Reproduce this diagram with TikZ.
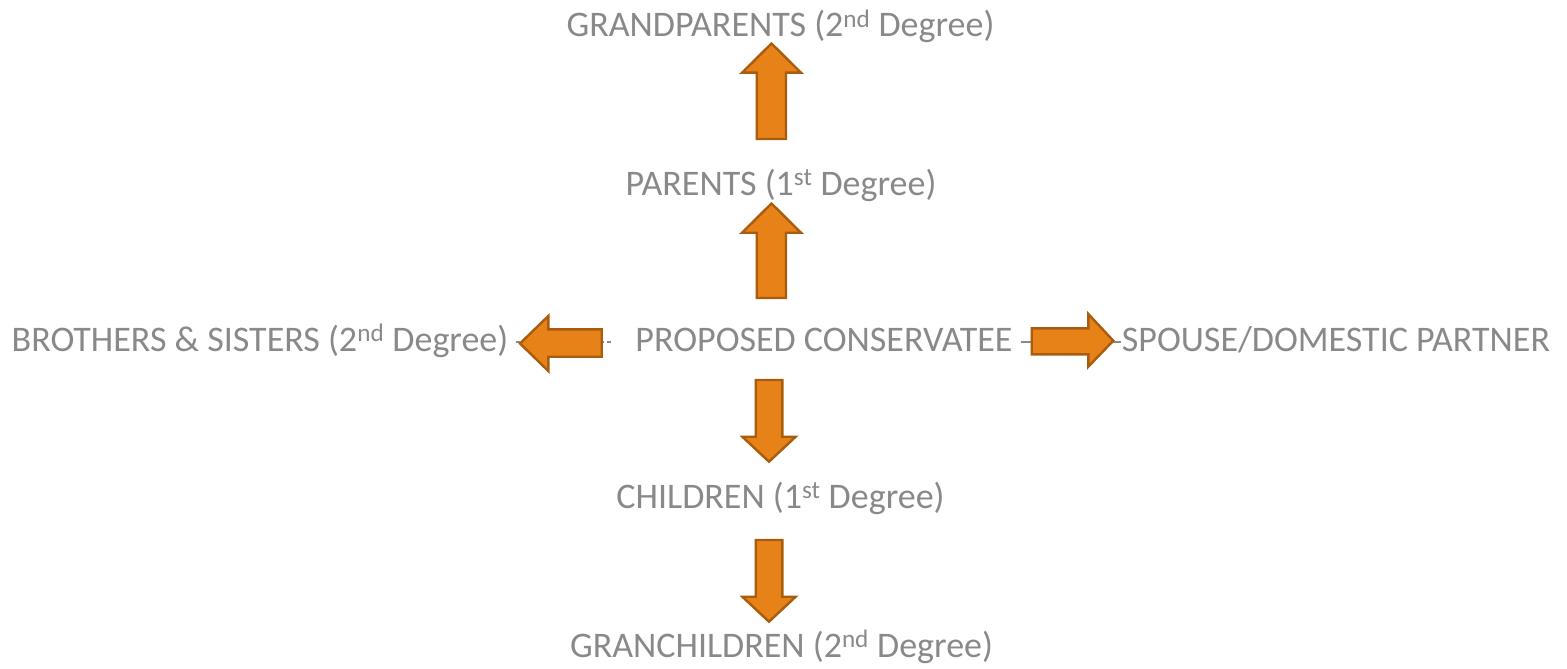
\documentclass[tikz,border=0pt]{standalone}
\usepackage{fontspec}
\setmainfont{Carlito}
\usetikzlibrary{calc}
\definecolor{txt}{RGB}{137,137,137}
\definecolor{arrfill}{RGB}{230,130,24}
\definecolor{arrdraw}{RGB}{170,92,14}
\begin{document}
\begin{tikzpicture}[x=1pt,y=-1pt,
  lbl/.style={text=txt,font=\fontsize{36}{42}\selectfont,anchor=base,inner sep=0pt},
  bigarrow/.style={fill=arrfill,draw=arrdraw,line width=2.4pt,line join=miter},
  conn/.style={draw=txt,line width=1.5pt}]
\useasboundingbox (0,0) rectangle (1567,669);
% labels
\node[lbl] (gp) at (780.5,37) {GRANDPARENTS (2\textsuperscript{nd} Degree)};
\node[lbl] (par) at (781,195) {PARENTS (1\textsuperscript{st} Degree)};
\node[lbl] (bro) at (260,351) {BROTHERS \& SISTERS (2\textsuperscript{nd} Degree)};
\node[lbl] (pc) at (824,351) {PROPOSED CONSERVATEE};
\node[lbl] (sp) at (1336,351) {SPOUSE/DOMESTIC PARTNER};
\node[lbl] (ch) at (780.5,508) {CHILDREN (1\textsuperscript{st} Degree)};
\node[lbl] (gc) at (781.5,657) {GRANCHILDREN (2\textsuperscript{nd} Degree)};
% thin connector fragments behind the side arrows
\draw[conn,dash pattern=on 4pt off 3pt] ($(bro.east |- 0,342)+(8,0)$) -- ($(pc.west |- 0,342)+(-22,0)$);
\draw[conn] ($(pc.east |- 0,342)+(8,0)$) -- ($(sp.west |- 0,342)+(-1,0)$);
% arrows
\draw[bigarrow] (756.7,139) -- (756.7,72.7) -- (742,72.7) -- (771.5,43.5) -- (801,72.7) -- (786,72.7) -- (786,139) -- cycle;
\draw[bigarrow] (756.7,298) -- (756.7,232.7) -- (742,232.7) -- (771.5,203.5) -- (801,232.7) -- (786,232.7) -- (786,298) -- cycle;
\draw[bigarrow] (755.7,380) -- (755.7,436.7) -- (742.3,436.7) -- (769,461.7) -- (795.7,436.7) -- (782.3,436.7) -- (782.3,380) -- cycle;
\draw[bigarrow] (755.7,540) -- (755.7,596.7) -- (742.3,596.7) -- (769,621.7) -- (795.7,596.7) -- (782.3,596.7) -- (782.3,540) -- cycle;
\draw[bigarrow] (601.7,329.3) -- (548.3,329.3) -- (548.3,316) -- (520,343.5) -- (548.3,371) -- (548.3,356.7) -- (601.7,356.7) -- cycle;
\draw[bigarrow] (1031.7,328.3) -- (1088.3,328.3) -- (1088.3,314) -- (1113.3,340.7) -- (1088.3,366.7) -- (1088.3,354.3) -- (1031.7,354.3) -- cycle;
\end{tikzpicture}
\end{document}
